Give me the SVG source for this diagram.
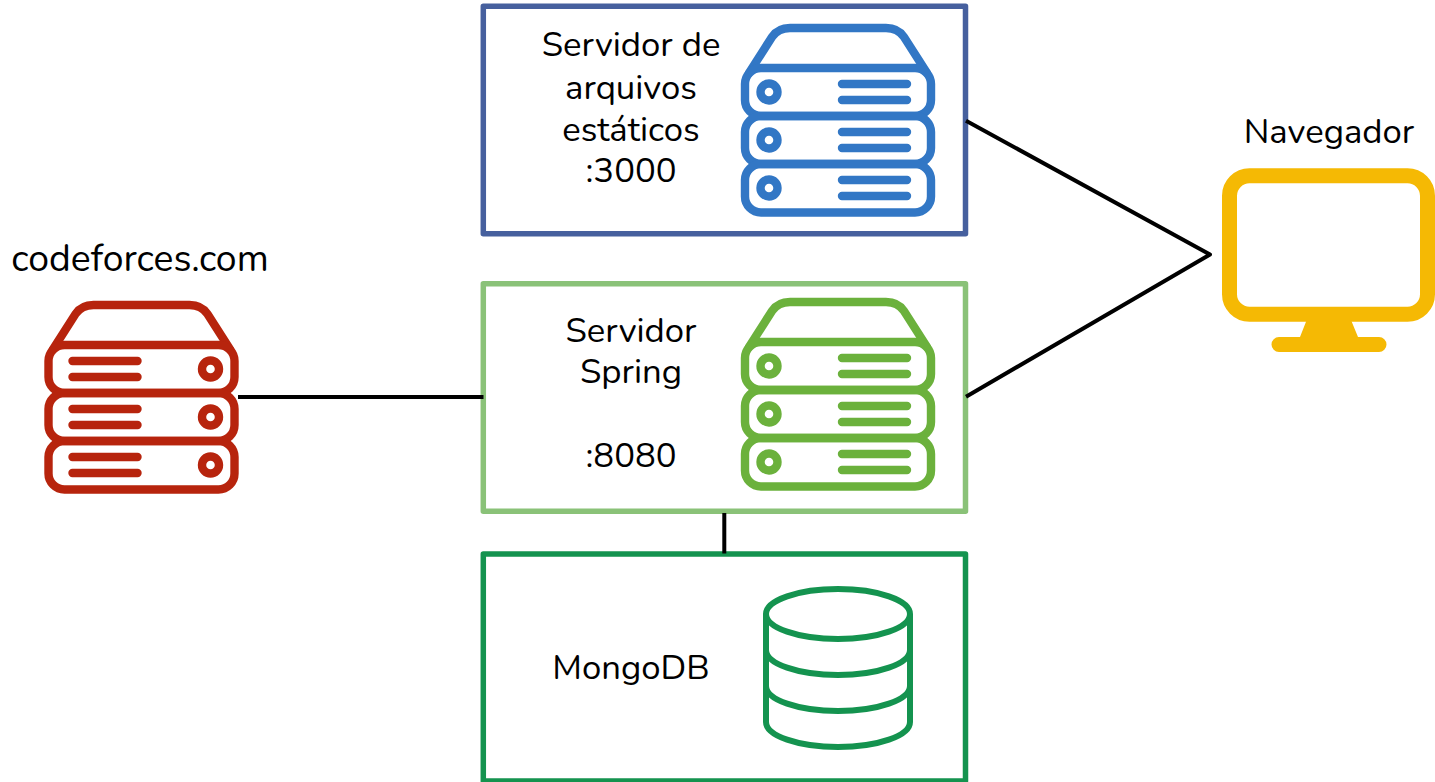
<svg xmlns="http://www.w3.org/2000/svg" width="1435" height="782" viewBox="0 0 1435 782">
<style>
text{font-family:"Nunito","Noto Sans","Open Sans",sans-serif;font-size:34.700px;fill:#000;text-anchor:middle}
.box{fill:#fff;stroke-width:5.500;stroke-linejoin:round}
.ln{fill:none;stroke:#000;stroke-width:4;stroke-linejoin:round}
.ic{fill:none;stroke-width:8.400;stroke-linecap:round;stroke-linejoin:round}
</style>
<defs>
<g id="srv">
<path d="M749 73L772 37Q778 28 790 28L886 28Q898 28 904 37L927 73"/>
<rect x="745" y="68" width="186" height="48" rx="16"/>
<rect x="745" y="116" width="186" height="48" rx="16"/>
<rect x="745" y="164" width="186" height="48.500" rx="16"/>
<circle cx="769" cy="92" r="8.500"/><circle cx="769" cy="140" r="8.500"/><circle cx="769" cy="188" r="8.500"/>
<path d="M842 84H907M842 100H907M842 132H907M842 148H907M842 180H907M842 196H907"/>
</g>
</defs>
<g id="estaticos">
<rect class="box" x="483.300" y="6.300" width="482.200" height="227.500" stroke="#46609e"/>
<text x="631" y="56">Servidor de</text><text x="631" y="99">arquivos</text><text x="631" y="141">estáticos</text><text x="631" y="182">:3000</text>
<use href="#srv" class="ic" stroke="#3277c5"/>
</g>
<g id="spring">
<rect class="box" x="483.300" y="283.800" width="482.200" height="227.500" stroke="#8ac278"/>
<text x="631" y="342">Servidor</text><text x="631" y="383">Spring</text><text x="631" y="467">:8080</text>
<use href="#srv" y="274" class="ic" stroke="#6bb13c"/>
</g>
<g id="mongodb">
<rect class="box" x="483.300" y="554" width="482.200" height="227" stroke="#14934f"/>
<text x="631" y="679">MongoDB</text>
<g fill="none" stroke="#14934f" stroke-width="6">
<ellipse cx="838" cy="614" rx="72" ry="25"/>
<path d="M766 614V722A72 25 0 0 0 910 722V614M766 650A72 25 0 0 0 910 650M766 686A72 25 0 0 0 910 686"/>
</g>
</g>
<g id="codeforces">
<text x="140" y="271" style="font-size:37.400px">codeforces.com</text>
<use href="#srv" transform="translate(979.500 277) scale(-1 1)" class="ic" stroke="#b7240d"/>
</g>
<g id="navegador">
<text x="1329" y="143">Navegador</text>
<rect x="1229.500" y="175.800" width="198" height="138.400" rx="20" fill="none" stroke="#f5b904" stroke-width="15"/>
<path d="M1306.700 320L1300 337H1279A7.500 7.500 0 0 0 1279 352H1379A7.500 7.500 0 0 0 1379 337H1358L1351 320Z" fill="#f5b904"/>
</g>
<g id="connectors">
<path class="ln" d="M238 397H483.500M966 120.700L1210 254.500L966 396.700M724.300 513V553.500"/>
</g>
</svg>
